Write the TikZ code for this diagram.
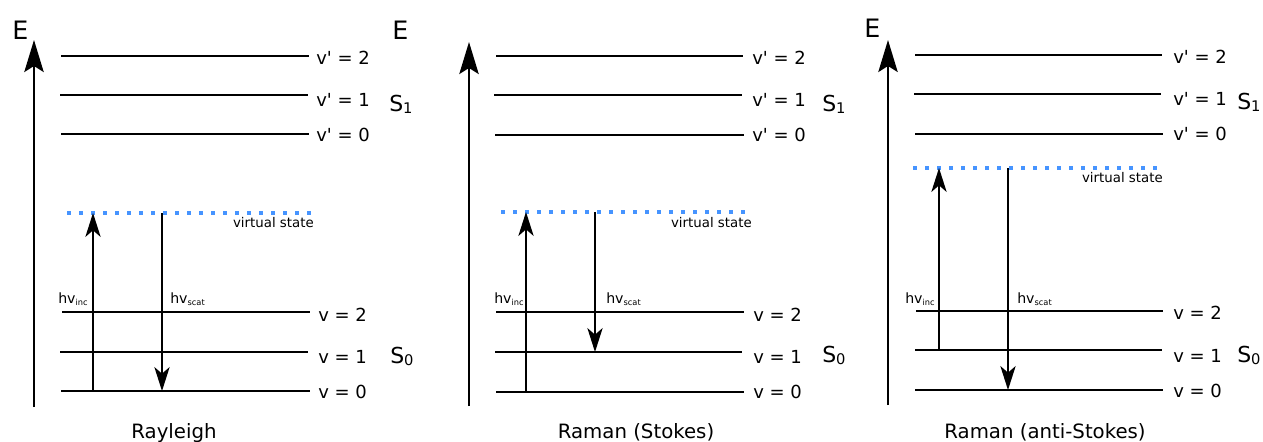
\documentclass[tikz,border=0pt]{standalone}
\usepackage{fontspec}
\setmainfont{DejaVu Sans}
\usetikzlibrary{arrows.meta}
\definecolor{vblue}{RGB}{70,148,255}
\newcommand{\vq}{\textquotesingle}
\newcommand{\hvsub}[1]{hv\raisebox{-2.2pt}{\fontsize{6.2}{7}\selectfont #1}}
\newcommand{\ssub}[1]{S\raisebox{-1.5pt}{\fontsize{11}{12}\selectfont #1}}
\begin{document}
\begin{tikzpicture}[x=0.75pt,y=-0.75pt,
  level/.style={line width=1.7pt},
  axisline/.style={line width=1.7pt,-{Stealth[length=24pt,width=14.5pt,inset=4.5pt]}},
  trans/.style={line width=1.1pt,-{Stealth[length=18pt,width=11.5pt,inset=5pt]}},
  vstate/.style={vblue,line width=2.7pt,dash pattern=on 2.7pt off 6.3pt},
  lvl/.style={anchor=base west,inner sep=0pt,font=\fontsize{13.5}{16}\selectfont},
  elbl/.style={anchor=base west,inner sep=0pt,font=\fontsize{19}{22}\selectfont},
  slbl/.style={anchor=base west,inner sep=0pt,font=\fontsize{16.5}{19}\selectfont},
  hvl/.style={anchor=base west,inner sep=0pt,font=\fontsize{10.6}{12}\selectfont},
  vsl/.style={anchor=base east,inner sep=0pt,font=\fontsize{10}{12}\selectfont},
  ttl/.style={anchor=base,inner sep=0pt,font=\fontsize{14.8}{18}\selectfont}]
\useasboundingbox (0,0) rectangle (1263,442);

% ================= Panel 1: Rayleigh =================
\coordinate (p1ab) at (34,407); \coordinate (p1at) at (34,40);
\draw[axisline] (p1ab) -- (p1at);
\node[elbl] (p1E) at (12,40) {E};
\coordinate (p1u2s) at (61,56);  \coordinate (p1u2e) at (309,56);
\coordinate (p1u1s) at (60,95);  \coordinate (p1u1e) at (308,95);
\coordinate (p1u0s) at (61,134); \coordinate (p1u0e) at (309,134);
\coordinate (p1g2s) at (62,312); \coordinate (p1g2e) at (310,312);
\coordinate (p1g1s) at (60,352); \coordinate (p1g1e) at (308,352);
\coordinate (p1g0s) at (61,391); \coordinate (p1g0e) at (310,391);
\draw[level] (p1u2s) -- (p1u2e);
\draw[level] (p1u1s) -- (p1u1e);
\draw[level] (p1u0s) -- (p1u0e);
\draw[level] (p1g2s) -- (p1g2e);
\draw[level] (p1g1s) -- (p1g1e);
\draw[level] (p1g0s) -- (p1g0e);
\node[lvl] (p1lu2) at (316,65) {v\vq{} = 2};
\node[lvl] (p1lu1) at (316,107) {v\vq{} = 1};
\node[lvl] (p1lu0) at (316,142) {v\vq{} = 0};
\node[lvl] (p1lg2) at (318,321) {v = 2};
\node[lvl] (p1lg1) at (318,363) {v = 1};
\node[lvl] (p1lg0) at (318,398) {v = 0};
\node[slbl] (p1S1) at (389,112) {\ssub{1}};
\node[slbl] (p1S0) at (390,363) {\ssub{0}};
\coordinate (p1vs) at (67,213); \coordinate (p1ve) at (314,213);
\draw[vstate] (p1vs) -- (p1ve);
\node[vsl] (p1vl) at (314,227) {virtual state};
\coordinate (p1i0) at (93,391); \coordinate (p1i1) at (93,213);
\coordinate (p1s0) at (162,213); \coordinate (p1s1) at (162,391);
\draw[trans] (p1i0) -- (p1i1);
\draw[trans] (p1s0) -- (p1s1);
\node[hvl] (p1hi) at (58,303) {\hvsub{inc}};
\node[hvl] (p1hs) at (170,303) {\hvsub{scat}};
\node[ttl] (p1t) at (174,438) {Rayleigh};

% ================= Panel 2: Raman (Stokes) =================
\coordinate (p2ab) at (469,406); \coordinate (p2at) at (469,42);
\draw[axisline] (p2ab) -- (p2at);
\node[elbl] (p2E) at (392,40) {E};
\coordinate (p2u2s) at (496,56);  \coordinate (p2u2e) at (743,56);
\coordinate (p2u1s) at (494,95);  \coordinate (p2u1e) at (742,95);
\coordinate (p2u0s) at (495,135); \coordinate (p2u0e) at (744,135);
\coordinate (p2g2s) at (496,312); \coordinate (p2g2e) at (744,312);
\coordinate (p2g1s) at (495,352); \coordinate (p2g1e) at (742,352);
\coordinate (p2g0s) at (496,392); \coordinate (p2g0e) at (744,392);
\draw[level] (p2u2s) -- (p2u2e);
\draw[level] (p2u1s) -- (p2u1e);
\draw[level] (p2u0s) -- (p2u0e);
\draw[level] (p2g2s) -- (p2g2e);
\draw[level] (p2g1s) -- (p2g1e);
\draw[level] (p2g0s) -- (p2g0e);
\node[lvl] (p2lu2) at (752,65) {v\vq{} = 2};
\node[lvl] (p2lu1) at (752,107) {v\vq{} = 1};
\node[lvl] (p2lu0) at (752,142) {v\vq{} = 0};
\node[lvl] (p2lg2) at (753,321) {v = 2};
\node[lvl] (p2lg1) at (753,363) {v = 1};
\node[lvl] (p2lg0) at (753,398) {v = 0};
\node[slbl] (p2S1) at (822,112) {\ssub{1}};
\node[slbl] (p2S0) at (822,362) {\ssub{0}};
\coordinate (p2vs) at (501,212); \coordinate (p2ve) at (747,212);
\draw[vstate] (p2vs) -- (p2ve);
\node[vsl] (p2vl) at (752,227) {virtual state};
\coordinate (p2i0) at (526,392); \coordinate (p2i1) at (526,212);
\coordinate (p2s0) at (595,212); \coordinate (p2s1) at (595,352);
\draw[trans] (p2i0) -- (p2i1);
\draw[trans] (p2s0) -- (p2s1);
\node[hvl] (p2hi) at (494,303) {\hvsub{inc}};
\node[hvl] (p2hs) at (606,303) {\hvsub{scat}};
\node[ttl] (p2t) at (636,438) {Raman (Stokes)};

% ================= Panel 3: Raman (anti-Stokes) =================
\coordinate (p3ab) at (888,405); \coordinate (p3at) at (888,40);
\draw[axisline] (p3ab) -- (p3at);
\node[elbl] (p3E) at (864,38) {E};
\coordinate (p3u2s) at (915,55);  \coordinate (p3u2e) at (1162,55);
\coordinate (p3u1s) at (914,94);  \coordinate (p3u1e) at (1161,94);
\coordinate (p3u0s) at (915,134); \coordinate (p3u0e) at (1163,134);
\coordinate (p3g2s) at (916,311); \coordinate (p3g2e) at (1163,311);
\coordinate (p3g1s) at (915,350); \coordinate (p3g1e) at (1162,350);
\coordinate (p3g0s) at (915,390); \coordinate (p3g0e) at (1163,390);
\draw[level] (p3u2s) -- (p3u2e);
\draw[level] (p3u1s) -- (p3u1e);
\draw[level] (p3u0s) -- (p3u0e);
\draw[level] (p3g2s) -- (p3g2e);
\draw[level] (p3g1s) -- (p3g1e);
\draw[level] (p3g0s) -- (p3g0e);
\node[lvl] (p3lu2) at (1173,64) {v\vq{} = 2};
\node[lvl] (p3lu1) at (1173,106) {v\vq{} = 1};
\node[lvl] (p3lu0) at (1173,141) {v\vq{} = 0};
\node[lvl] (p3lg2) at (1173,319) {v = 2};
\node[lvl] (p3lg1) at (1173,362) {v = 1};
\node[lvl] (p3lg0) at (1173,397) {v = 0};
\node[slbl] (p3S1) at (1237,110) {\ssub{1}};
\node[slbl] (p3S0) at (1237,362) {\ssub{0}};
\coordinate (p3vs) at (913,168); \coordinate (p3ve) at (1160,168);
\draw[vstate] (p3vs) -- (p3ve);
\node[vsl] (p3vl) at (1163,183) {virtual state};
\coordinate (p3i0) at (939,350); \coordinate (p3i1) at (939,168);
\coordinate (p3s0) at (1008,168); \coordinate (p3s1) at (1008,390);
\draw[trans] (p3i0) -- (p3i1);
\draw[trans] (p3s0) -- (p3s1);
\node[hvl] (p3hi) at (905,303) {\hvsub{inc}};
\node[hvl] (p3hs) at (1017,303) {\hvsub{scat}};
\node[ttl] (p3t) at (1045,438) {Raman (anti-Stokes)};
\end{tikzpicture}
\end{document}
